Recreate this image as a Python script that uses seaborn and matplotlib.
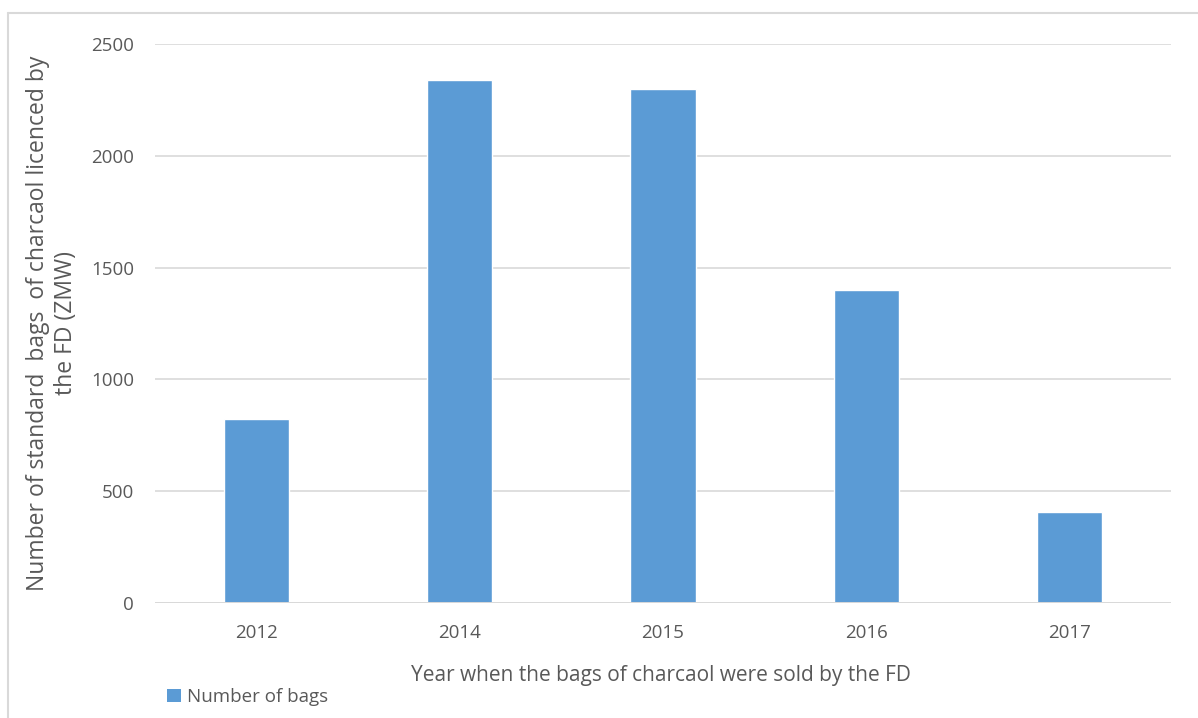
import matplotlib
matplotlib.use("Agg")
import matplotlib.pyplot as plt
from matplotlib.patches import Patch
from matplotlib.lines import Line2D
import seaborn as sns
import pandas as pd

# Charcoal bags licensed by the FD, per year
years = ["2012", "2014", "2015", "2016", "2017"]
bags = [825, 2340, 2300, 1400, 405]
y_ticks = [0, 500, 1000, 1500, 2000, 2500]

bar_color = "#5B9BD5"
text_color = "#595959"
grid_color = "#D9D9D9"

sns.set_theme(style="white")
plt.rcParams["font.family"] = ["Open Sans", "DejaVu Sans"]

df = pd.DataFrame({"Year": years, "Bags": bags})

fig = plt.figure(figsize=(11.98, 7.18), dpi=100)
ax = fig.add_axes([155 / 1198, 1 - 603 / 718, (1171 - 155) / 1198, (603 - 44) / 718])

sns.barplot(data=df, x="Year", y="Bags", color=bar_color, width=0.32,
            saturation=1, ax=ax, zorder=3)

ax.set_ylim(0, 2500)
ax.set_xlim(-0.5, len(years) - 0.5)
ax.set_yticks(y_ticks)
ax.set_yticklabels([str(t) for t in y_ticks])
ax.yaxis.grid(True, color=grid_color, linewidth=1.2, zorder=0)
ax.set_axisbelow(True)
for s in ax.spines.values():
    s.set_visible(False)
ax.axhline(0, color=grid_color, linewidth=1.4, zorder=4)

ax.tick_params(axis="y", length=0, pad=15, labelsize=13.5, labelcolor=text_color)
ax.tick_params(axis="x", length=0, pad=15, labelsize=13.5, labelcolor=text_color)
ax.set_xlabel("")
ax.set_ylabel("")

fig.text(52 / 1198, 1 - 323 / 718,
         "Number of standard  bags  of charcaol licenced by\nthe FD (ZMW)",
         rotation=90, ha="center", va="center", multialignment="center",
         fontsize=16.5, color=text_color, linespacing=1.2)

fig.text(661 / 1198, 1 - 675 / 718,
         "Year when the bags of charcaol were sold by the FD",
         ha="center", va="center", fontsize=15, color=text_color)

handle = Patch(facecolor=bar_color, edgecolor="none")
fig.legend([handle], ["Number of bags"], loc="center left",
           bbox_to_anchor=(158 / 1198, 1 - 697 / 718), frameon=False,
           fontsize=13.5, labelcolor=text_color, handlelength=0.75,
           handleheight=0.75, handletextpad=0.3, borderpad=0)

# Chart frame: top and left edges
fig.add_artist(Line2D([8 / 1198, 1.0], [1 - 13 / 718, 1 - 13 / 718],
                      transform=fig.transFigure, color="#D9D9D9", linewidth=1.5))
fig.add_artist(Line2D([8 / 1198, 8 / 1198], [0.0, 1 - 13 / 718],
                      transform=fig.transFigure, color="#D9D9D9", linewidth=1.5))

fig.savefig("out.png", dpi=100, facecolor="white")
